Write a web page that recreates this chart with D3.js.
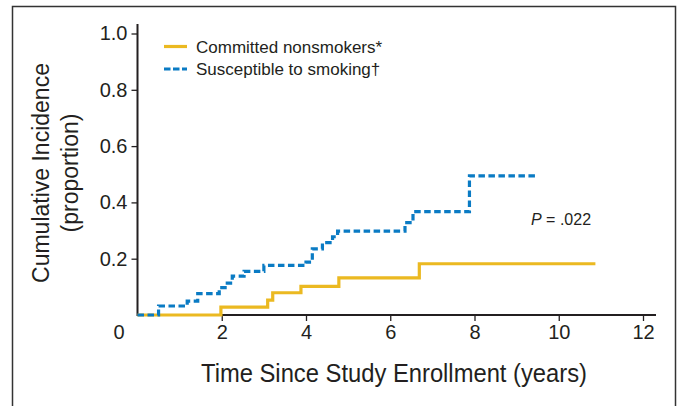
<!DOCTYPE html>
<html>
<head>
<meta charset="utf-8">
<script src="https://cdn.jsdelivr.net/npm/d3@7"></script>
<style>
    body { margin: 0; background: #fff; }
    svg { display: block; }
</style>
</head>
<body>
<script>
// Data
const committedTimes = [0, 1.98, 3.09, 3.21, 3.88, 4.78, 6.69, 10.87]
const committedValues = [0, 0.028, 0.053, 0.079, 0.102, 0.132, 0.182, 0.182]
const susceptibleTimes = [0, 0.5, 1.18, 1.43, 1.94, 2.08, 2.25, 2.53, 3.0, 4.0, 4.15, 4.39, 4.63, 4.75, 6.35, 6.54, 7.88, 9.45]
const susceptibleValues = [0, 0.032, 0.049, 0.076, 0.097, 0.113, 0.138, 0.155, 0.176, 0.188, 0.235, 0.257, 0.278, 0.298, 0.328, 0.367, 0.494, 0.494]
const xTicks = [0, 2, 4, 6, 8, 10, 12]
const yTicks = [0.2, 0.4, 0.6, 0.8, 1.0]
const seriesNames = ["Committed nonsmokers*", "Susceptible to smoking\u2020"]

// Main
let main = () => {
    const width = 679
    const height = 406
    const ink = "#231f20"
    const yellow = "#ebb921"
    const blue = "#0a7bc4"
    const font = "'Liberation Sans', Arial, sans-serif"

    let svg = d3.select("body")
        .append("svg")
        .attr("width", width)
        .attr("height", height)

    // Outer frame
    svg.append("rect")
        .attr("x", 12.5).attr("y", 6.5)
        .attr("width", 663).attr("height", 420)
        .attr("fill", "none")
        .attr("stroke", "#333")
        .attr("stroke-width", 1.5)

    // Scales
    let xScale = d3.scaleLinear().domain([0, 12]).range([137.5, 643])
    let yScale = d3.scaleLinear().domain([0, 1]).range([315, 33.5])

    // x axis
    let xAxis = svg.append("g")
        .attr("transform", `translate(0, ${yScale(0)})`)
        .call(d3.axisBottom(xScale).tickValues(xTicks).tickSize(6).tickSizeOuter(0).tickFormat(d3.format("d")))
        .attr("font-family", font)
        .attr("font-size", 20)
    xAxis.select(".domain").remove()
    xAxis.append("line")
        .attr("x1", xScale(0)).attr("x2", 656)
        .attr("stroke", ink).attr("stroke-width", 2)
    xAxis.selectAll(".tick line").attr("stroke", ink).attr("stroke-width", 1.3)
        .filter(d => d === 0).remove()
    xAxis.selectAll(".tick text")
        .attr("y", 10)
        .attr("dx", d => d === 0 ? "-19" : "0")
        .attr("fill", ink)

    // y axis
    let yAxis = svg.append("g")
        .attr("transform", `translate(${xScale(0)}, 0)`)
        .call(d3.axisLeft(yScale).tickValues(yTicks).tickSize(6).tickSizeOuter(0).tickFormat(d3.format(".1f")))
        .attr("font-family", font)
        .attr("font-size", 20)
    yAxis.select(".domain").remove()
    yAxis.append("line")
        .attr("y1", 24).attr("y2", yScale(0) + 1)
        .attr("stroke", ink).attr("stroke-width", 2)
    yAxis.selectAll(".tick line").attr("stroke", ink).attr("stroke-width", 1.3)
    yAxis.selectAll(".tick text")
        .attr("x", -10)
        .attr("fill", ink)

    // Step lines
    let stepLine = d3.line()
        .x(d => xScale(d[0]))
        .y(d => yScale(d[1]))
        .curve(d3.curveStepAfter)

    svg.append("path")
        .datum(d3.zip(committedTimes, committedValues))
        .attr("d", stepLine)
        .attr("fill", "none")
        .attr("stroke", yellow)
        .attr("stroke-width", 3.2)

    svg.append("path")
        .datum(d3.zip(susceptibleTimes, susceptibleValues))
        .attr("d", stepLine)
        .attr("fill", "none")
        .attr("stroke", blue)
        .attr("stroke-width", 3.2)
        .attr("stroke-dasharray", "6.5,3.5")

    // Legend
    let legend = svg.append("g")
    legend.append("line")
        .attr("x1", 164).attr("x2", 187).attr("y1", 46.5).attr("y2", 46.5)
        .attr("stroke", yellow).attr("stroke-width", 3.2)
    legend.append("line")
        .attr("x1", 164).attr("x2", 187).attr("y1", 69).attr("y2", 69)
        .attr("stroke", blue).attr("stroke-width", 3.2)
        .attr("stroke-dasharray", "6.5,2.5")
    legend.selectAll(".legendText")
        .data(seriesNames).enter().append("text")
        .attr("class", "legendText")
        .attr("x", 196)
        .attr("y", (d, i) => 52.5 + i * 22.5)
        .text(d => d)
        .attr("font-family", font)
        .attr("font-size", 17)
        .attr("fill", ink)

    // P value
    let pText = svg.append("text")
        .attr("x", 531).attr("y", 225)
        .attr("font-family", font)
        .attr("font-size", 16)
        .attr("fill", ink)
    pText.append("tspan").attr("font-style", "italic").text("P")
    pText.append("tspan").text(" = .022")

    // Axis titles (condensed look via textLength)
    svg.append("text")
        .attr("x", 394).attr("y", 382)
        .attr("text-anchor", "middle")
        .attr("font-family", font)
        .attr("font-size", 26)
        .attr("textLength", 386)
        .attr("lengthAdjust", "spacingAndGlyphs")
        .attr("fill", ink)
        .text("Time Since Study Enrollment (years)")

    let yTitle = svg.append("text")
        .attr("transform", "translate(49, 173) rotate(-90)")
        .attr("text-anchor", "middle")
        .attr("font-family", font)
        .attr("font-size", 23)
        .attr("fill", ink)
    yTitle.append("tspan").attr("x", 0).attr("y", 0).text("Cumulative Incidence")
    yTitle.append("tspan").attr("x", 0).attr("y", 29).text("(proportion)")
}

main()
</script>
</body>
</html>
